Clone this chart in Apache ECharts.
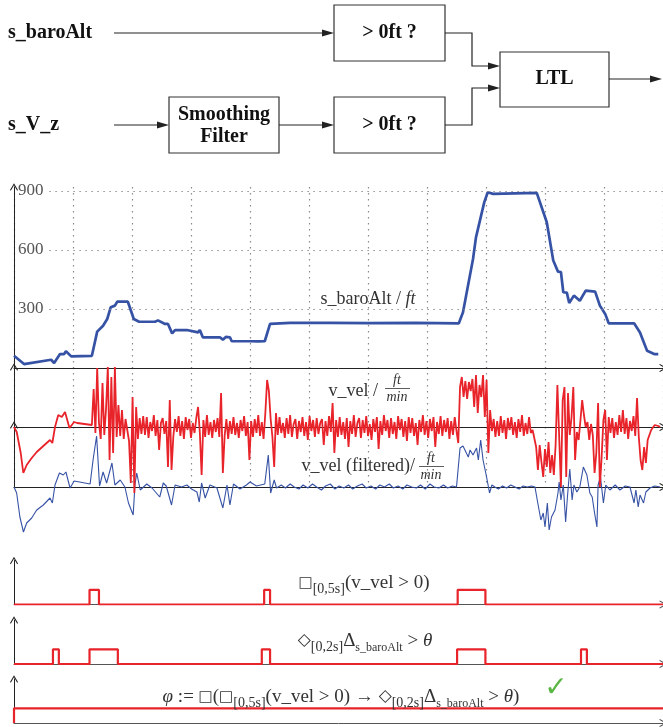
<!DOCTYPE html>
<html>
<head>
<meta charset="utf-8">
<script src="https://cdn.jsdelivr.net/npm/echarts@6/dist/echarts.min.js"></script>
<style>
  html, body { margin: 0; padding: 0; background: #fff; }
  #chart { width: 663px; height: 727px; }
</style>
</head>
<body>
<div id="chart"></div>
<script>
// time axis in s, 10 s per dotted grid line
const altTicks = [300, 600, 900];

// s_baroAlt / ft
const baroAlt = [
  [0, 62], [1.7, 20], [6.3, 42], [6.8, 25], [7.8, 71], [8.5, 71], [8.8, 85], [9.7, 59], [13.2, 62],
  [14.1, 185], [15.1, 215], [15.8, 249], [16.4, 309], [17.1, 317], [17.5, 337], [19.3, 337],
  [20.3, 249], [21.2, 235], [23.9, 235], [24.4, 242], [25.6, 224], [26.1, 224], [26.8, 176],
  [27.3, 193], [29.3, 193], [31.2, 181], [31.5, 193], [32.0, 156], [34.9, 156], [35.4, 144],
  [35.9, 158], [36.6, 156], [36.9, 136], [40.0, 136], [41.4, 135], [42.5, 136], [43.4, 224],
  [46.8, 229], [53.6, 229], [60, 228], [68, 229], [75.4, 227], [76.1, 283], [77.8, 554],
  [78.3, 664], [79.7, 842], [80.3, 893], [81.2, 885], [88.6, 890], [90.3, 741], [91.4, 546],
  [92.2, 490], [92.7, 488], [93.1, 385], [93.7, 383], [94.1, 330], [94.9, 368], [95.9, 342],
  [96.9, 393], [98.5, 388], [99.3, 317], [100.2, 275], [100.8, 227], [105.1, 227], [106.1, 181],
  [107.3, 88], [108.5, 71], [109.2, 71]
];

// v_vel raw: smooth start, then sampled every 0.3 s
const vVelHead = [
  [0, 0], [0.46, -5], [1.14, -26], [1.58, -46], [2.15, -38], [3.0, -31], [3.85, -25], [4.97, -19],
  [6.1, -13], [6.5, -16], [6.95, 0], [7.5, 12], [8.1, 10], [8.65, 15], [8.9, 14], [9.4, -1],
  [10.2, 5], [10.7, 4]
];
const vVelStart = 13.2;
const vVelStep = 0.3;
const vVelNoise = [
  2, 38, -6, 59, 4, -12, 44, -8, 18, 60,
  -33, 50, -26, 60, -10, 22, -9, 17, -12, 8,
  6, -14, -56, 30, -66, 20, -12, 9, -7, 11,
  -8, 10, -11, 5, -4, 12, -9, 7, -23, 4,
  9, -7, 6, -40, 27, -43, -10, 8, -5, 11,
  -9, 6, -12, 10, -3, 8, -11, 4, -6, 9,
  20, -6, -48, 7, -10, 12, -8, 5, -11, 7,
  -5, 9, -10, 34, -46, -9, 8, -12, 6, -7,
  10, -8, 4, -11, 7, -4, 11, -9, 5, -33,
  6, -10, 8, -6, 12, -9, 5, -12, 14, 47,
  36, 8, -10, -40, 14, -8, 10, -6, 4, -11,
  9, -7, 12, -10, 3, 8, -12, 6, -5, 10,
  -9, 5, -13, 11, -4, 7, -10, 9, -7, 4,
  8, -18, 6, -9, 11, -5, 24, -26, 7, -10,
  10, -8, 5, -12, 9, -20, 6, -7, 12, -10,
  4, 9, -11, 7, -6, 11, -9, 3, -13, 8,
  -5, 10, -22, 6, -8, 12, -4, 7, -11, 9,
  -7, 5, -12, 11, -3, 8, -10, 6, -14, 10,
  -6, 9, -9, 4, -18, 7, -5, 12, -8, 6,
  -11, 8, -4, 10, -20, 5, -7, 11, -9, 7,
  -5, 9, -12, 6, -8, 10, -4, -16, 40, 50,
  30, 46, 28, 45, 36, 48, 20, 52, 14, 42,
  30, 52, 10, 47, -26, 17, -4, 8, -10, 6,
  -9, 11, -6, 7, -12, 9, -3, 10, -8, 5,
  -11, 8, -5, 12, -9, 4, -7, 10, -6, -3,
  -2, -20, -43, -18, -35, -50, -22, -40, -15, -46,
  -28, -48, -18, 42, 44, -60, 27, 40, -50, 34,
  -8, 10, 40, -33, -5, -13, 6, 27, 12, 0,
  5, -13, 3, -8, -46, -26, 24, -60, -30, 7,
  17, -33, 10, -6, 9, -11, 5, -8, 12, -5,
  17, -7, 9, -12, 6, -4, 11, -9, 29, -10,
  -33, -43, -20, -36, -13, -8, -3, -1, 2, 0,
  1, 0
];

// v_vel after smoothing filter
const vVelFiltered = [
  [0, 0], [0.45, -6], [1.0, -30], [1.6, -45], [2.15, -36], [3.0, -31], [3.85, -23], [4.97, -18],
  [6.1, -11], [6.5, -16], [6.95, 2], [7.7, 14], [8.35, 12], [8.8, 15], [9.5, -1], [10.2, 6],
  [12.9, 3], [13.4, 27], [14.0, 51], [14.5, 1], [15.1, 15], [15.7, 4], [16.6, 24], [17.1, 2],
  [18.0, 7], [18.8, 0], [19.4, -16], [20.2, -28], [20.5, 2], [20.8, 14], [21.4, -3], [22.5, 3],
  [23.4, -1], [24.7, -10], [25.3, 4], [25.8, 1], [26.7, -18], [27.3, 2], [28.4, 0], [29.3, 2],
  [30.1, -2], [31.0, -5], [31.4, -15], [31.8, 4], [32.4, -11], [33.2, 2], [34.4, -1], [35.4, -21],
  [36.1, 2], [36.6, -18], [37.2, 3], [38.3, -2], [39.4, 2], [40.0, 5], [41.1, 1], [42.5, 3],
  [43.1, 32], [43.5, -6], [44.1, 7], [44.5, -1],
  [45.3, 2], [46.0, -1], [46.8, 3], [47.5, 0], [48.3, -2], [49.0, 2], [49.8, -1], [50.6, 3],
  [51.3, 0], [52.1, -3], [52.8, 1], [53.6, 3], [54.4, -2], [55.1, 1], [55.9, -1], [56.7, 2],
  [57.4, -2], [58.2, 1], [59.0, 3], [59.7, -1], [60.5, 1], [61.3, -2], [62.0, 2], [62.8, 0],
  [63.6, 3], [64.3, -1], [65.1, 1], [65.9, -2], [66.6, 2], [67.4, 0], [68.2, -1], [68.9, 2],
  [69.7, -2], [70.5, 3], [71.2, 0], [72.0, -1], [72.8, 2], [73.5, -1], [74.3, 1], [75.0, 0],
  [75.3, 2], [75.6, 39], [76.1, 41], [76.4, 41], [77.0, 30], [77.3, 37], [77.8, 32], [78.4, 39],
  [78.7, 27], [79.1, 47], [79.5, 27], [80.1, 10], [80.6, -6], [81.0, 2], [81.5, 0],
  [82.1, -2], [82.8, 1], [83.5, -1], [84.2, 2], [84.9, 0], [85.6, -2], [86.3, 1], [87.0, 0],
  [87.7, 1], [88.3, 0], [88.9, -20], [89.3, -33], [89.7, -26], [90.0, -40], [90.4, -16],
  [90.7, -43], [91.1, -30], [91.7, -23], [92.2, -6], [92.4, 5], [92.7, -13], [93.1, 2],
  [93.5, -35], [93.8, -10], [94.2, 18], [94.6, -13], [94.9, 2], [95.4, -5], [95.9, 0],
  [96.5, 20], [97.1, 12], [97.6, -6], [98.0, -10], [98.4, -26], [98.8, -40], [99.0, 2],
  [99.4, 10], [99.9, -16], [100.3, 2], [101.0, -3], [101.9, 2], [102.7, -3], [103.6, 1],
  [104.4, 0], [105.1, -16], [105.4, -3], [105.8, -20], [106.1, -8], [106.7, -16], [107.1, -5],
  [107.8, -1], [108.6, 1], [109.5, 0]
];

// boolean traces (value held from each time on)
const boxVel = [[0, 0], [12.8, 1], [14.4, 0], [42.4, 1], [43.4, 0], [75.2, 1], [79.9, 0], [110, 0]];
const diamondAlt = [[0, 0], [6.6, 1], [7.6, 0], [12.8, 1], [17.6, 0], [42.0, 1], [43.4, 0],
  [75.1, 1], [79.9, 0], [96.1, 1], [97.1, 0], [110, 0]];
const phi = [[0, 0], [0, 1], [110, 1]];

const vVel = vVelHead.concat(vVelNoise.map((v, i) => [+(vVelStart + i * vVelStep).toFixed(2), v]));

const RED = '#e8232a';
const BLUE = '#3652a5';
const DOTS = { color: '#8a8a8a', type: [1.4, 4.6], width: 1.2 };
const chevron = 'path://M5,0L10,8.6L9,9.4L5,2.4L1,9.4L0,8.6Z';
const serif = '"Liberation Serif", "DejaVu Serif", serif';

function axisLine(color) {
  return { show: true, symbol: ['none', chevron], symbolSize: [8, 8], lineStyle: { color: color, width: 1 } };
}
function timeAxis(gridIndex, dotted, color) {
  return {
    type: 'value', gridIndex: gridIndex, min: 0, max: 110, interval: 10,
    axisLabel: { show: false }, axisTick: { show: false },
    axisLine: axisLine(color || '#222'),
    splitLine: { show: dotted, lineStyle: DOTS }
  };
}
function plainY(gridIndex, min, max) {
  return {
    type: 'value', gridIndex: gridIndex, min: min, max: max,
    axisLabel: { show: false }, axisTick: { show: false }, splitLine: { show: false },
    axisLine: axisLine('#222')
  };
}
function stepSeries(idx, data) {
  return {
    type: 'line', xAxisIndex: idx, yAxisIndex: idx, data: data, step: 'end',
    showSymbol: false, lineStyle: { color: RED, width: 2.2 }, itemStyle: { color: RED }
  };
}

// block diagram pieces
const ink = '#222';
function box(x, y, w, h) {
  return { type: 'rect', shape: { x: x, y: y, width: w, height: h }, style: { fill: '#fff', stroke: '#333', lineWidth: 1.2 } };
}
function wire(points) {
  return { type: 'polyline', shape: { points: points }, style: { stroke: ink, lineWidth: 1.2, fill: null } };
}
function head(x, y) {
  return { type: 'polygon', shape: { points: [[x, y], [x - 12, y - 3.5], [x - 12, y + 3.5]] }, style: { fill: ink } };
}
function bold(text, x, y, align) {
  return { type: 'text', x: x, y: y, style: { text: text, font: 'bold 20px ' + serif, fill: '#111', align: align || 'center', verticalAlign: 'middle' } };
}

const mathRich = {
  n: { fontSize: 19, fontFamily: serif, fill: '#333', lineHeight: 26, verticalAlign: 'middle' },
  i: { fontSize: 19, fontFamily: serif, fontStyle: 'italic', fill: '#333', lineHeight: 26, verticalAlign: 'middle' },
  b: { fontSize: 15, fontFamily: '"DejaVu Sans"', fill: '#333', lineHeight: 26, verticalAlign: 'middle' },
  d: { fontSize: 17, fontFamily: '"DejaVu Sans"', fill: '#333', lineHeight: 26, verticalAlign: 'middle' },
  s: { fontSize: 14, fontFamily: serif, fill: '#333', lineHeight: 26, verticalAlign: 'bottom' },
  s2: { fontSize: 12, fontFamily: serif, fill: '#333', lineHeight: 26, verticalAlign: 'bottom' }
};
function math(text, x, y, align, size) {
  const rich = JSON.parse(JSON.stringify(mathRich));
  if (size) { rich.n.fontSize = size; rich.i.fontSize = size; }
  return { type: 'text', x: x, y: y, z: 50, style: { text: text, rich: rich, align: align || 'center', verticalAlign: 'middle' } };
}
function small(text, x, y) {
  return { type: 'text', x: x, y: y, z: 50, style: { text: text, font: 'italic 14px ' + serif, fill: '#333', align: 'center', verticalAlign: 'middle' } };
}
function bar(x1, x2, y) {
  return { type: 'line', z: 50, shape: { x1: x1, y1: y, x2: x2, y2: y }, style: { stroke: '#333', lineWidth: 0.8 } };
}

const graphics = [
  box(334, 5, 111, 56), box(334, 97, 111, 56), box(169, 97, 110, 56), box(500, 52, 109, 55),
  bold('s_baroAlt', 8, 33, 'left'), bold('s_V_z', 8, 125, 'left'),
  bold('> 0ft ?', 389.5, 33), bold('> 0ft ?', 389.5, 125),
  bold('Smoothing', 224, 115), bold('Filter', 224, 137), bold('LTL', 554.5, 79),
  wire([[114, 33], [323, 33]]), head(334, 33),
  wire([[114, 125], [158, 125]]), head(169, 125),
  wire([[279, 125], [323, 125]]), head(334, 125),
  wire([[445, 33], [472, 33], [472, 66], [489, 66]]), head(500, 66),
  wire([[445, 125], [472, 125], [472, 88], [489, 88]]), head(500, 88),
  wire([[609, 79], [651, 79]]), head(662, 79),

  math('{n|s_baroAlt / }{i|ft}', 368, 299, 'center', 18),
  math('{n|v_vel /}', 378, 391, 'right', 18),
  small('ft', 397, 380), bar(385, 410, 388.5), small('min', 397, 397),
  math('{n|v_vel (filtered)/}', 415, 466, 'right', 18),
  small('ft', 431, 458), bar(419, 444, 466.5), small('min', 431, 475),

  math('{b|□}{s|[0,5s]}{n|(v_vel > 0)}', 364, 583),
  math('{d|◇}{s|[0,2s]}{n|Δ}{s2|s_baroAlt}{n| > }{i|θ}', 365, 641),
  math('{i|φ}{n| := }{b|□}{n|(}{b|□}{s|[0,5s]}{n|(v_vel > 0) → }{d|◇}{s|[0,2s]}{n|Δ}{s2|s_baroAlt}{n| > }{i|θ}{n|)}', 341, 697),
  { type: 'text', x: 556, y: 689, z: 50, style: { text: '✓', font: '28px "DejaVu Sans"', fill: '#5cb646', align: 'center', verticalAlign: 'middle' } }
];

const chart = echarts.init(document.getElementById('chart'));
chart.setOption({
  animation: false,
  backgroundColor: '#fff',
  grid: [
    { left: 14, top: 187, width: 649, height: 181 },
    { left: 14, top: 367, width: 649, height: 120 },
    { left: 14, top: 425, width: 649, height: 62 },
    { left: 14, top: 560.5, width: 649, height: 44 },
    { left: 14, top: 620, width: 649, height: 44 },
    { left: 14, top: 679, width: 649, height: 44 }
  ],
  xAxis: [
    timeAxis(0, true), timeAxis(1, true), timeAxis(2, false),
    timeAxis(3, false, '#555'), timeAxis(4, false, '#555'), timeAxis(5, false, '#555')
  ],
  yAxis: [
    {
      type: 'value', gridIndex: 0, min: 0, max: 920, interval: 300,
      axisTick: { show: false }, splitLine: { show: false }, axisLine: axisLine('#222'),
      axisLabel: {
        inside: true, margin: 4, color: '#555', fontSize: 17, fontFamily: serif,
        formatter: v => (altTicks.indexOf(v) >= 0 ? String(v) : '')
      }
    },
    plainY(1, -60, 60), plainY(2, 0, 62),
    plainY(3, 0, 3), plainY(4, 0, 3), plainY(5, 0, 3)
  ],
  series: [
    {
      name: 's_baroAlt', type: 'line', xAxisIndex: 0, yAxisIndex: 0, data: baroAlt,
      showSymbol: false, lineStyle: { color: BLUE, width: 2.7 }, itemStyle: { color: BLUE },
      markLine: {
        silent: true, symbol: 'none', label: { show: false },
        lineStyle: DOTS,
        data: altTicks.map(v => [{ coord: [6, v] }, { coord: [110, v] }])
      }
    },
    {
      name: 'v_vel filtered', type: 'line', xAxisIndex: 2, yAxisIndex: 2, data: vVelFiltered,
      showSymbol: false, clip: false, lineStyle: { color: BLUE, width: 1.1 }, itemStyle: { color: BLUE }
    },
    {
      name: 'v_vel', type: 'line', xAxisIndex: 1, yAxisIndex: 1, data: vVel,
      showSymbol: false, clip: false, lineStyle: { color: RED, width: 1.8 }, itemStyle: { color: RED }
    },
    stepSeries(3, boxVel),
    stepSeries(4, diamondAlt),
    stepSeries(5, phi)
  ],
  graphic: graphics
});
</script>
</body>
</html>
